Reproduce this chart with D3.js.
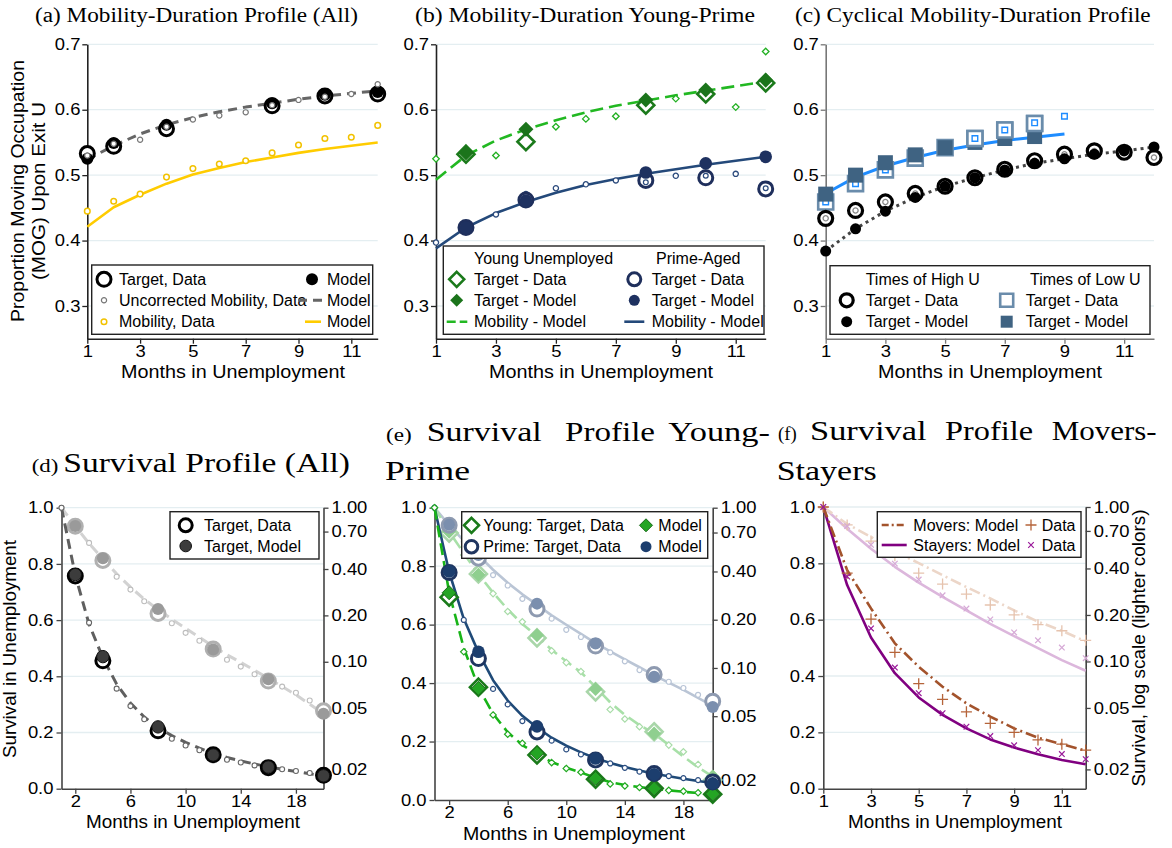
<!DOCTYPE html>
<html><head><meta charset="utf-8">
<script src="https://cdn.jsdelivr.net/npm/d3@7"></script>
<style>body{margin:0;background:#fff}svg{display:block}</style>
</head><body><svg id="c" width="1172" height="848"></svg>
<script>
// ---------------- DATA ----------------
// (a) Mobility-Duration Profile (All)
const monthsA = [1,2,3,4,5,6,7,8,9,10,11,12];
const targetMonthsA = [1,2,4,8,10,12];
const aTargetData  = [0.533,0.544,0.571,0.606,0.621,0.624];
const aTargetModel = [0.525,0.549,0.577,0.610,0.623,0.627];
const aUncorrData  = [0.530,0.548,0.554,0.574,0.585,0.591,0.596,0.607,0.615,0.620,0.624,0.639];
const aUncorrModel = [0.524,0.545,0.563,0.577,0.588,0.597,0.604,0.610,0.616,0.621,0.625,0.629];
const aMobData     = [0.445,0.460,0.471,0.497,0.510,0.517,0.522,0.534,0.546,0.556,0.558,0.576];
const aMobModel    = [0.421,0.451,0.470,0.487,0.501,0.511,0.520,0.527,0.534,0.540,0.545,0.550];

// (b) Young vs Prime
const targetMonthsB = [2,4,8,10,12];
const bYoungTargetData  = [0.532,0.551,0.607,0.624,0.641];
const bYoungTargetModel = [0.534,0.570,0.615,0.630,0.645];
const bYoungMobData     = [0.525,0.533,0.530,0.552,0.574,0.586,0.590,0.610,0.617,0.626,0.604,0.689];
const bYoungMobModel    = [0.493,0.530,0.553,0.570,0.584,0.596,0.606,0.614,0.622,0.629,0.636,0.643];
const bPrimeTargetData  = [0.420,0.462,0.492,0.496,0.479];
const bPrimeTargetModel = [0.420,0.461,0.504,0.518,0.528];
const bPrimeMobData     = [0.397,0.421,0.440,0.471,0.480,0.486,0.492,0.489,0.499,0.499,0.502,0.480];
const bPrimeMobModel    = [0.388,0.420,0.442,0.459,0.473,0.485,0.494,0.502,0.509,0.516,0.522,0.528];

// (c) Cyclical
const cHighTargetData  = [0.434,0.446,0.459,0.472,0.483,0.496,0.509,0.522,0.532,0.537,0.535,0.527];
const cHighTargetModel = [0.384,0.418,0.445,0.466,0.483,0.496,0.508,0.518,0.525,0.532,0.537,0.543];
const lowMonthsC = [1,2,3,4,5,6,7,8];
const lineMonthsC = [1,2,3,4,5,6,7,8,9];
const cLowTargetData  = [0.459,0.487,0.508,0.526,0.542,0.556,0.569,0.579];
const cLowTargetModel = [0.471,0.500,0.519,0.531,0.542,0.550,0.556,0.559];
const cLowData        = [0.459,0.487,0.508,0.526,0.542,0.556,0.569,0.580,0.590];
const cLowModelLine   = [0.472,0.497,0.514,0.527,0.538,0.546,0.553,0.558,0.563];

// (d) Survival (All)
const months20 = [1,2,3,4,5,6,7,8,9,10,11,12,13,14,15,16,17,18,19,20];
const targetMonthsS = [2,4,8,12,16,20];
const otherMonthsS  = [1,3,5,6,7,9,10,11,13,14,15,17,18,19];
const dTargetData  = [0.757,0.455,0.206,0.121,0.075,0.048];
const dTargetModel = [0.762,0.470,0.220,0.120,0.077,0.046];
const dMonthData   = [1.0,0.591,0.356,0.294,0.247,0.178,0.154,0.137,0.103,0.093,0.083,0.069,0.063,0.056];
const dModel = [1.0,0.760,0.585,0.466,0.372,0.305,0.255,0.218,0.189,0.165,0.144,0.126,0.111,0.099,0.088,0.078,0.069,0.061,0.053,0.046];

// (e) Survival Young-Prime
const eYoungTargetData  = [0.694,0.386,0.154,0.071,0.040,0.020];
const eYoungTargetModel = [0.709,0.382,0.160,0.074,0.039,0.021];
const eYoungMonthData   = [1.0,0.507,0.291,0.225,0.194,0.128,0.108,0.095,0.055,0.048,0.043,0.033,0.030,0.025];
const eYoungModel = [1.0,0.710,0.520,0.385,0.295,0.232,0.188,0.158,0.130,0.110,0.094,0.076,0.061,0.051,0.044,0.039,0.033,0.028,0.024,0.021];
const ePrimeTargetData  = [0.778,0.484,0.233,0.137,0.091,0.062];
const ePrimeTargetModel = [0.782,0.507,0.252,0.142,0.088,0.057];
const ePrimeMonthData   = [1.0,0.616,0.380,0.327,0.270,0.203,0.173,0.156,0.125,0.110,0.097,0.082,0.075,0.068];
const ePrimeModel = [1.0,0.780,0.620,0.505,0.410,0.340,0.288,0.248,0.213,0.186,0.163,0.143,0.127,0.113,0.101,0.090,0.081,0.073,0.065,0.058];

// (f) Movers-Stayers
const fMoversData   = [1.0,0.765,0.602,0.484,0.373,0.317,0.273,0.232,0.200,0.173,0.158,0.137];
const fMoversModel  = [1.0,0.776,0.640,0.516,0.433,0.362,0.303,0.256,0.214,0.181,0.158,0.135];
const fStayersData  = [1.0,0.753,0.569,0.430,0.339,0.268,0.220,0.187,0.154,0.137,0.123,0.105];
const fStayersModel = [1.0,0.723,0.537,0.410,0.324,0.262,0.214,0.175,0.146,0.122,0.102,0.087];

const topYTicks = [0.3,0.4,0.5,0.6,0.7];
const topXTicks = [1,3,5,7,9,11];
const survYTicks = [0,0.2,0.4,0.6,0.8,1.0];
const survXTicks = [2,6,10,14,18];
const logTicks = [1,0.7,0.4,0.2,0.1,0.05,0.02];

// ---------------- HELPERS ----------------
const SANS='"Liberation Sans", Arial, Helvetica, sans-serif';
const SERIF='"Liberation Serif","Times New Roman",serif';
const GRID='#e4eef1';
const svg=d3.select('#c');

function sym(type,s){
  switch(type){
    case 'diamond': return `M0,${-s}L${s},0L0,${s}L${-s},0Z`;
    case 'square': return `M${-s},${-s}h${2*s}v${2*s}h${-2*s}Z`;
    case 'plus': return `M${-s},0h${2*s}M0,${-s}v${2*s}`;
    case 'x': return `M${-s},${-s}L${s},${s}M${-s},${s}L${s},${-s}`;
    default: return `M${s},0A${s},${s} 0 1,1 ${-s},0A${s},${s} 0 1,1 ${s},0Z`;
  }
}
function pts(g,sx,sy,xs,ys,type,s,fill,stroke,sw){
  g.append('g').selectAll('path').data(xs.map((m,i)=>[m,ys[i]])).join('path')
    .attr('transform',d=>`translate(${sx(d[0])},${sy(d[1])})`)
    .attr('d',sym(type,s)).attr('fill',fill).attr('stroke',stroke||'none').attr('stroke-width',sw||0);
}
function ln(g,sx,sy,xs,ys,color,sw,dash){
  g.append('path').datum(xs.map((m,i)=>[m,ys[i]]))
    .attr('d',d3.line().x(d=>sx(d[0])).y(d=>sy(d[1])))
    .attr('fill','none').attr('stroke',color).attr('stroke-width',sw)
    .attr('stroke-dasharray',dash||null).attr('stroke-linejoin','round');
}
function T(g,x,y,s,o={}){
  const t=g.append('text').attr('x',x).attr('y',y).text(s)
    .attr('font-size',o.size||16).attr('font-family',o.family||SANS).attr('fill',o.fill||'#000');
  if(o.anchor) t.attr('text-anchor',o.anchor);
  if(o.dy) t.attr('dy',o.dy);
  if(o.len) t.attr('textLength',o.len).attr('lengthAdjust','spacingAndGlyphs');
  if(o.rot) t.attr('transform',`rotate(${o.rot},${x},${y})`);
  return t;
}
function lsym(g,x,y,type,s,fill,stroke,sw){
  g.append('path').attr('transform',`translate(${x},${y})`).attr('d',sym(type,s))
    .attr('fill',fill).attr('stroke',stroke||'none').attr('stroke-width',sw||0);
}
function lline(g,x1,x2,y,color,sw,dash){
  g.append('line').attr('x1',x1).attr('x2',x2).attr('y1',y).attr('y2',y)
    .attr('stroke',color).attr('stroke-width',sw).attr('stroke-dasharray',dash||null);
}
function lbox(g,x1,y1,x2,y2){
  g.append('rect').attr('x',x1).attr('y',y1).attr('width',x2-x1).attr('height',y2-y1)
    .attr('fill','#fff').attr('stroke','#222').attr('stroke-width',1.4);
}
function styleAx(sel,size,color){
  sel.attr('font-size',size).attr('font-family',SANS);
  sel.selectAll('text').attr('fill','#000').attr('transform','scale(1.15,1)');
  sel.selectAll('.tick line').attr('stroke',color).attr('stroke-width',1.3);
  sel.select('.domain').attr('stroke',color).attr('stroke-width',1.6);
}
function panel(p){
  const g=svg.append('g');
  const x=d3.scaleLinear().domain(p.xdom).range([p.L,p.R]);
  const y=d3.scaleLinear().domain(p.ydom).range([p.B,p.T]);
  g.append('g').selectAll('line').data(p.yticks.filter(v=>v>p.ydom[0])).join('line')
    .attr('x1',p.L).attr('x2',p.R).attr('y1',d=>y(d)).attr('y2',d=>y(d))
    .attr('stroke',GRID).attr('stroke-width',1.3);
  const ay=g.append('g').attr('transform',`translate(${p.L},0)`)
    .call(d3.axisLeft(y).tickValues(p.yticks).tickFormat(d3.format('.1f')).tickSize(5).tickSizeOuter(0).tickPadding(p.ypad));
  styleAx(ay,p.tick,p.axis);
  const ax=g.append('g').attr('transform',`translate(0,${p.B})`)
    .call(d3.axisBottom(x).tickValues(p.xticks).tickFormat(d3.format('d')).tickSize(5).tickSizeOuter(0).tickPadding(2));
  styleAx(ax,p.tick,p.axis);
  let yl=null;
  if(p.log){
    yl=d3.scaleLog().domain([0.015,1]).range([p.B,p.T]);
    const ar=g.append('g').attr('transform',`translate(${p.R},0)`)
      .call(d3.axisRight(yl).tickValues(logTicks).tickFormat(d3.format('.2f')).tickSize(5).tickSizeOuter(0).tickPadding(2));
    styleAx(ar,p.tick,p.axis);
  }
  return {g,x,y,yl};
}
const AX=17.5; // axis title font size

// ---------------- PANEL (a) ----------------
{
  const P={L:87.3,R:377.7,B:338.7,T:44.3,xdom:[1,12],ydom:[0.25,0.7],xticks:topXTicks,yticks:topYTicks,tick:16,axis:'#222',ypad:1};
  const {g,x,y}=panel(P);
  ln(g,x,y,monthsA,aMobModel,'#ffcc00',2.6);
  ln(g,x,y,monthsA,aUncorrModel,'#666',3,'9,6');
  pts(g,x,y,monthsA,aMobData,'circle',2.8,'#fff','#f2c200',1.5);
  pts(g,x,y,targetMonthsA,aTargetData,'circle',7,'#fff','#000',3);
  pts(g,x,y,targetMonthsA,aTargetModel,'circle',6,'#000');
  pts(g,x,y,monthsA,aUncorrData,'circle',2.6,'#fff','#777',1.2);
  const lg=g.append('g');
  lbox(lg,91.7,265,372.7,334.3);
  lsym(lg,104,279.3,'circle',7,'#fff','#000',3);
  T(lg,119,279.3,'Target, Data',{dy:'0.35em'});
  lsym(lg,312,279.3,'circle',6,'#000');
  T(lg,327,279.3,'Model',{dy:'0.35em'});
  lsym(lg,104,300.3,'circle',2.6,'#fff','#777',1.2);
  T(lg,119,300.3,'Uncorrected Mobility, Data',{dy:'0.35em'});
  lline(lg,298,322,300.3,'#666',3,'9,6');
  T(lg,327,300.3,'Model',{dy:'0.35em'});
  lsym(lg,104,321.7,'circle',2.8,'#fff','#f2c200',1.5);
  T(lg,119,321.7,'Mobility, Data',{dy:'0.35em'});
  lline(lg,305,321,321.7,'#ffcc00',2.6);
  T(lg,327,321.7,'Model',{dy:'0.35em'});
  T(g,35,22,'(a) Mobility-Duration Profile (All)',{family:SERIF,size:20,len:323});
  T(g,233,378,'Months in Unemployment',{size:AX,anchor:'middle',len:224});
  T(g,24,191,'Proportion Moving Occupation',{size:AX,anchor:'middle',rot:-90,len:262});
  T(g,45,191,'(MOG) Upon Exit U',{size:AX,anchor:'middle',rot:-90,len:178});
}

// ---------------- PANEL (b) ----------------
{
  const P={L:436,R:765.7,B:338.7,T:44.3,xdom:[1,12],ydom:[0.25,0.7],xticks:topXTicks,yticks:topYTicks,tick:16,axis:'#222',ypad:1};
  const {g,x,y}=panel(P);
  ln(g,x,y,monthsA,bPrimeMobModel,'#24497a',2.6);
  ln(g,x,y,monthsA,bYoungMobModel,'#22b822',2.6,'13,6');
  pts(g,x,y,monthsA,bYoungMobData,'diamond',3.3,'#fff','#22b022',1.3);
  pts(g,x,y,monthsA,bPrimeMobData,'circle',2.6,'#fff','#2b4a7c',1.3);
  pts(g,x,y,targetMonthsB,bYoungTargetData,'diamond',8.5,'#fff','#1b7a1b',2.6);
  pts(g,x,y,targetMonthsB,bYoungTargetModel,'diamond',7.5,'#1b741b');
  pts(g,x,y,targetMonthsB,bPrimeTargetData,'circle',7,'#fff','#1f2f5c',3);
  pts(g,x,y,targetMonthsB,bPrimeTargetModel,'circle',6.3,'#1e3160');
  pts(g,x,y,[8,10,12],[0.489,0.499,0.480],'circle',2.4,'#fff','#2b4a7c',1.2);
  const lg=g.append('g');
  lbox(lg,443.3,246,764,334.3);
  T(lg,474,258.7,'Young Unemployed',{dy:'0.35em'});
  T(lg,656,258.7,'Prime-Aged',{dy:'0.35em'});
  lsym(lg,456.7,279.3,'diamond',7.5,'#fff','#1b7a1b',2.6);
  T(lg,474,279.3,'Target - Data',{dy:'0.35em'});
  lsym(lg,456.7,300.3,'diamond',6.5,'#1b741b');
  T(lg,474,300.3,'Target - Model',{dy:'0.35em'});
  lline(lg,446.7,467.3,321.7,'#22b822',2.6,'9,4');
  T(lg,474,321.7,'Mobility - Model',{dy:'0.35em'});
  lsym(lg,634.3,279.3,'circle',6.5,'#fff','#1f2f5c',3);
  T(lg,651.7,279.3,'Target - Data',{dy:'0.35em'});
  lsym(lg,634.3,300.3,'circle',5.5,'#1e3160');
  T(lg,651.7,300.3,'Target - Model',{dy:'0.35em'});
  lline(lg,624.3,644.3,321.7,'#24497a',2.6);
  T(lg,651.7,321.7,'Mobility - Model',{dy:'0.35em'});
  T(g,415,22,'(b) Mobility-Duration Young-Prime',{family:SERIF,size:20,len:340});
  T(g,601,378,'Months in Unemployment',{size:AX,anchor:'middle',len:224});
}

// ---------------- PANEL (c) ----------------
{
  const P={L:825.7,R:1154,B:338.7,T:44.3,xdom:[1,12],ydom:[0.25,0.7],xticks:topXTicks,yticks:topYTicks,tick:16,axis:'#777',ypad:1};
  const {g,x,y}=panel(P);
  ln(g,x,y,lineMonthsC,cLowModelLine,'#1e8cff',3);
  ln(g,x,y,monthsA,cHighTargetModel,'#444',3,'3,4');
  pts(g,x,y,lowMonthsC,cLowTargetData,'square',7.5,'#fff','#6a8cab',2.6);
  pts(g,x,y,lineMonthsC,cLowData,'square',2.8,'#fff','#1e8cff',1.4);
  pts(g,x,y,lowMonthsC,cLowTargetModel,'square',7.5,'#3f6382');
  pts(g,x,y,[6,7,8],[0.556,0.569,0.579],'square',7.5,'#fff','#6a8cab',2.6);
  pts(g,x,y,[6,7,8],[0.556,0.569,0.580],'square',2.8,'#fff','#1e8cff',1.4);
  pts(g,x,y,monthsA,cHighTargetData,'circle',7,'#fff','#000',3.2);
  pts(g,x,y,monthsA,cHighTargetData,'circle',2.6,'#fff','#888',1.3);
  pts(g,x,y,monthsA,cHighTargetModel,'circle',5.5,'#000');
  const lg=g.append('g');
  lbox(lg,830,265.7,1150,334.3);
  T(lg,865.7,279.3,'Times of High U',{dy:'0.35em'});
  T(lg,1030,279.3,'Times of Low U',{dy:'0.35em'});
  lsym(lg,846.7,300.3,'circle',6.5,'#fff','#000',3.2);
  T(lg,865.7,300.3,'Target - Data',{dy:'0.35em'});
  lsym(lg,846.7,321.7,'circle',5.5,'#000');
  T(lg,865.7,321.7,'Target - Model',{dy:'0.35em'});
  lsym(lg,1006.7,300.3,'square',6.5,'#fff','#6a8cab',2.6);
  T(lg,1025.7,300.3,'Target - Data',{dy:'0.35em'});
  lsym(lg,1006.7,321.7,'square',6,'#3f6382');
  T(lg,1025.7,321.7,'Target - Model',{dy:'0.35em'});
  T(g,795,22,'(c) Cyclical Mobility-Duration Profile',{family:SERIF,size:20,len:355.7});
  T(g,990,378,'Months in Unemployment',{size:AX,anchor:'middle',len:224});
}

// ---------------- PANEL (d) ----------------
{
  const P={L:61.5,R:323.5,B:788.7,T:507.7,xdom:[1,20],ydom:[0,1],xticks:survXTicks,yticks:survYTicks,tick:16,axis:'#444',ypad:2,log:true};
  const {g,x,y,yl}=panel(P);
  ln(g,x,yl,months20,dModel,'#d2d2d2',3,'10,6');
  pts(g,x,yl,otherMonthsS,dMonthData,'circle',2.5,'#fff','#bdbdbd',1.1);
  pts(g,x,yl,targetMonthsS,dTargetData,'circle',7,'#fff','#b0b0b0',3);
  pts(g,x,yl,targetMonthsS,dTargetModel,'circle',6,'#9a9a9a');
  ln(g,x,y,months20,dModel,'#5f5f5f',3,'10,6');
  pts(g,x,y,otherMonthsS,dMonthData,'circle',2.5,'#fff','#666',1.1);
  pts(g,x,y,targetMonthsS,dTargetData,'circle',7,'#fff','#000',3);
  pts(g,x,y,targetMonthsS,dTargetModel,'circle',6.2,'#3c3c3c','#111',1);
  const lg=g.append('g');
  lbox(lg,170,511.7,319,559);
  lsym(lg,185.7,525.3,'circle',6.5,'#fff','#000',3);
  T(lg,204,525.3,'Target, Data',{dy:'0.35em'});
  lsym(lg,185.7,546,'circle',5.8,'#3c3c3c','#111',1);
  T(lg,204,546,'Target, Model',{dy:'0.35em'});
  T(g,31.7,472,'(d)',{family:SERIF,size:18,len:26.7});
  T(g,63.3,472,'Survival Profile (All)',{family:SERIF,size:28,len:286.7});
  T(g,193,828,'Months in Unemployment',{size:AX,anchor:'middle',len:214});
  T(g,16,649,'Survival in Unemployment',{size:AX,anchor:'middle',rot:-90,len:218});
}

// ---------------- PANEL (e) ----------------
{
  const P={L:434.5,R:712.7,B:800,T:507.7,xdom:[1,20],ydom:[0,1],xticks:survXTicks,yticks:survYTicks,tick:16,axis:'#444',ypad:2,log:true};
  const {g,x,y,yl}=panel(P);
  ln(g,x,yl,months20,ePrimeModel,'#bac5d5',2.6);
  ln(g,x,yl,months20,eYoungModel,'#a8e0a8',2.6,'12,6');
  pts(g,x,yl,otherMonthsS,ePrimeMonthData,'circle',2.5,'#fff','#b8c4d6',1.2);
  pts(g,x,yl,otherMonthsS,eYoungMonthData,'diamond',3.2,'#fff','#a8dca8',1.2);
  pts(g,x,yl,targetMonthsS,eYoungTargetData,'diamond',8.5,'#fff','#a9d6a9',2.6);
  pts(g,x,yl,targetMonthsS,eYoungTargetModel,'diamond',7,'#8fcf8f');
  pts(g,x,yl,targetMonthsS,ePrimeTargetData,'circle',7,'#fff','#8e9ab0',3);
  pts(g,x,yl,targetMonthsS,ePrimeTargetModel,'circle',6,'#7b8fae');
  ln(g,x,y,months20,ePrimeModel,'#1f4a78',2.6);
  ln(g,x,y,months20,eYoungModel,'#18b418',2.6,'12,6');
  pts(g,x,y,otherMonthsS,ePrimeMonthData,'circle',2.5,'#fff','#2a4d80',1.2);
  pts(g,x,y,otherMonthsS,eYoungMonthData,'diamond',3.2,'#fff','#22aa22',1.2);
  pts(g,x,y,targetMonthsS,eYoungTargetData,'diamond',8.5,'#fff','#1a7a1a',2.6);
  pts(g,x,y,targetMonthsS,eYoungTargetModel,'diamond',7,'#24a524','#1a6a1a',1);
  pts(g,x,y,targetMonthsS,ePrimeTargetData,'circle',7,'#fff','#1f3560',3);
  pts(g,x,y,targetMonthsS,ePrimeTargetModel,'circle',6.3,'#1c3e6e');
  const lg=g.append('g');
  lbox(lg,461.7,511.7,707.7,558.3);
  lsym(lg,471.5,525.3,'diamond',7.5,'#fff','#1a7a1a',2.6);
  T(lg,483.3,525.3,'Young: Target, Data',{dy:'0.35em'});
  lsym(lg,646,525.3,'diamond',6.5,'#24a524','#1a6a1a',1);
  T(lg,658.3,525.3,'Model',{dy:'0.35em'});
  lsym(lg,471.5,546.7,'circle',6.3,'#fff','#1f3560',3);
  T(lg,483.3,546.7,'Prime: Target, Data',{dy:'0.35em'});
  lsym(lg,646,546.7,'circle',5.5,'#1c3e6e');
  T(lg,658.3,546.7,'Model',{dy:'0.35em'});
  T(g,386,440.7,'(e)',{family:SERIF,size:18,len:25.7});
  T(g,426.7,440.7,'Survival',{family:SERIF,size:28,len:115});
  T(g,565,440.7,'Profile',{family:SERIF,size:28,len:90});
  T(g,668.3,440.7,'Young-',{family:SERIF,size:28,len:101.7});
  T(g,385,480,'Prime',{family:SERIF,size:28,len:85});
  T(g,574,840,'Months in Unemployment',{size:AX,anchor:'middle',len:222});
}

// ---------------- PANEL (f) ----------------
{
  const P={L:823.3,R:1085.7,B:788.7,T:507,xdom:[1,12],ydom:[0,1],xticks:topXTicks,yticks:survYTicks,tick:16,axis:'#444',ypad:2,log:true};
  const {g,x,y,yl}=panel(P);
  ln(g,x,yl,monthsA,fStayersModel,'#dcb7dc',2.6);
  ln(g,x,yl,monthsA,fMoversModel,'#ecd6c8',2.6,'11,4,2,4');
  pts(g,x,yl,monthsA,fMoversData,'plus',5.5,'none','#e6c3ae',1.3);
  pts(g,x,yl,monthsA,fStayersData,'x',2.8,'none','#d6a9d6',1.2);
  ln(g,x,y,monthsA,fStayersModel,'#800080',2.6);
  ln(g,x,y,monthsA,fMoversModel,'#a3532c',2.6,'11,4,2,4');
  pts(g,x,y,monthsA,fMoversData,'plus',5.5,'none','#b5643a',1.3);
  pts(g,x,y,monthsA,fStayersData,'x',2.8,'none','#9a1a9a',1.2);
  const lg=g.append('g');
  lbox(lg,877.3,511.7,1081,557.3);
  lline(lg,881.7,906.7,525,'#a3532c',2.6,'7,3,2,3');
  T(lg,913.3,525,'Movers: Model',{dy:'0.35em'});
  lsym(lg,1031,525,'plus',5.5,'none','#b5643a',1.3);
  T(lg,1041.7,525,'Data',{dy:'0.35em'});
  lline(lg,881.7,906.7,545,'#800080',2.6);
  T(lg,913.3,545,'Stayers: Model',{dy:'0.35em'});
  lsym(lg,1031,545,'x',2.8,'none','#9a1a9a',1.2);
  T(lg,1041.7,545,'Data',{dy:'0.35em'});
  T(g,778,440,'(f)',{family:SERIF,size:18,len:18.7});
  T(g,810,440,'Survival',{family:SERIF,size:28,len:116.7});
  T(g,945,440,'Profile',{family:SERIF,size:28,len:88});
  T(g,1051.7,440,'Movers-',{family:SERIF,size:28,len:105});
  T(g,776.7,480,'Stayers',{family:SERIF,size:28,len:100});
  T(g,955,828,'Months in Unemployment',{size:AX,anchor:'middle',len:214});
  T(g,1145,648,'Survival, log scale (lighter colors)',{size:AX,anchor:'middle',rot:-90,len:277});
}
</script></body></html>
